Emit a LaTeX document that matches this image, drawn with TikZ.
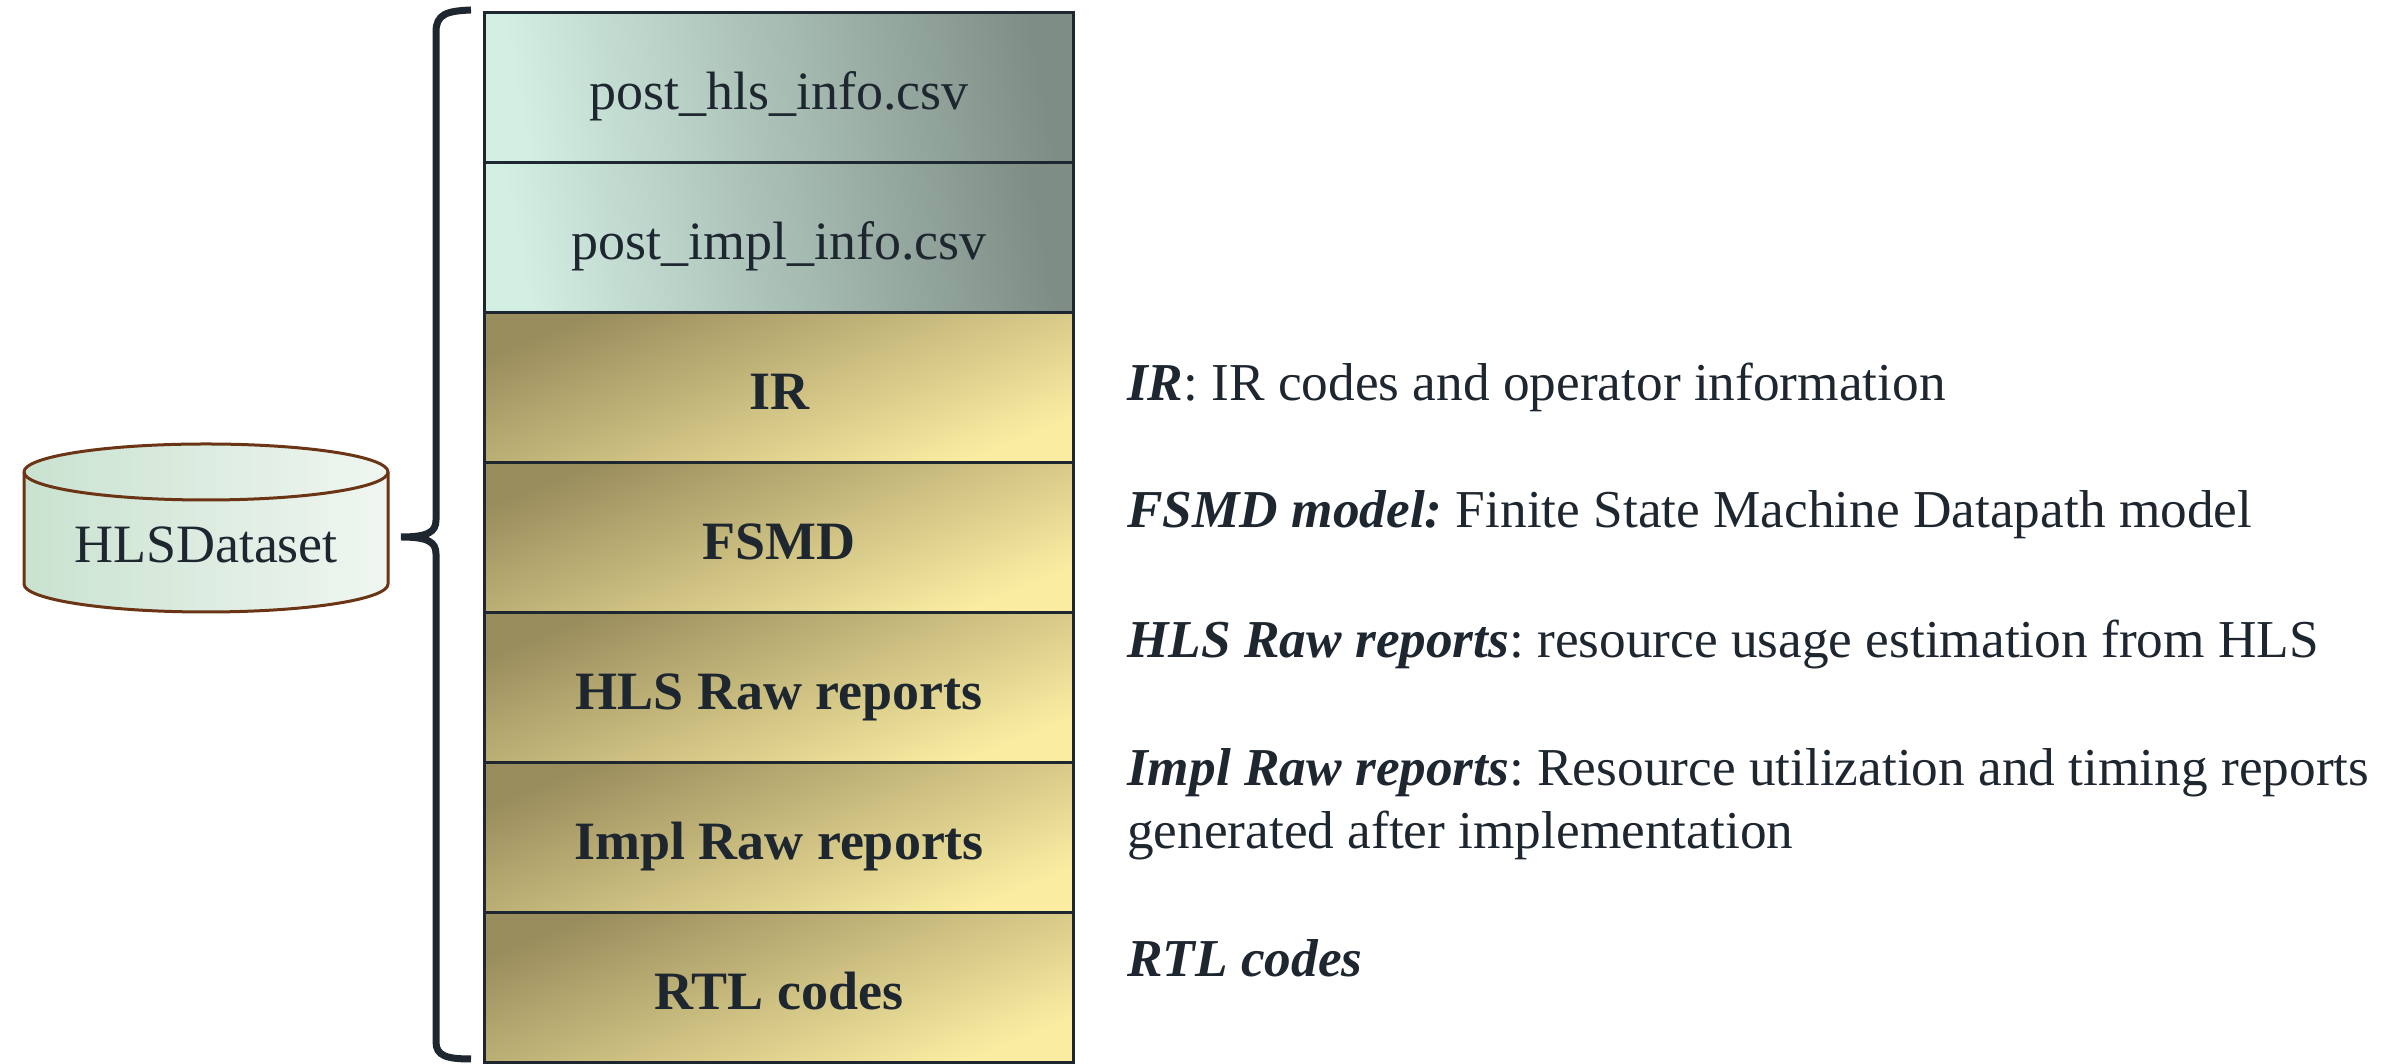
\documentclass[tikz,border=0pt]{standalone}
\usepackage{fontspec}
\setmainfont{Liberation Serif}
\frenchspacing

\definecolor{ink}{HTML}{1E2730}
\definecolor{csvL}{HTML}{D3EEE3}
\definecolor{csvR}{HTML}{7E8E86}
\definecolor{rawD}{HTML}{9A8D5D}
\definecolor{rawL}{HTML}{FAEDA2}
\definecolor{cylL}{HTML}{C9E2D0}
\definecolor{cylR}{HTML}{F0F6F1}
\definecolor{cylB}{HTML}{6B3515}

\tikzset{
  layer/.style={draw=ink, line width=3pt, rectangle, anchor=north west,
    minimum width=589pt, minimum height=150pt, inner sep=0pt,
    text height=52pt, text depth=8pt, text=ink},
  csvbox/.style={layer, left color=csvL, right color=csvR, shading angle=100,
    font=\fontsize{54}{64}\selectfont},
  rawbox/.style={layer, top color=rawD, bottom color=rawL, shading angle=22,
    font=\fontsize{54}{64}\selectfont\bfseries},
  note/.style={anchor=base west, inner sep=0pt, text=ink,
    font=\fontsize{53.3}{63}\selectfont}
}
\newcommand{\termtext}[1]{\textbf{\textit{#1}}}

\begin{document}
\begin{tikzpicture}[x=1pt, y=1pt]
  \useasboundingbox (0,0) rectangle (2399,1064);

  % database cylinder
  \shade[left color=cylL, right color=cylR, draw=cylB, line width=3pt]
    (24,592) -- (24,480)
    arc[start angle=180, end angle=360, x radius=182, y radius=28]
    -- (388,592)
    arc[start angle=0, end angle=180, x radius=182, y radius=28] -- cycle;
  \draw[cylB, line width=3pt]
    (24,592) arc[start angle=180, end angle=360, x radius=182, y radius=28];
  \node[anchor=base, inner sep=0pt, text=ink, font=\fontsize{54}{64}\selectfont]
    (ds) at (206,501) {HLSDataset};

  % stacked dataset contents
  \node[csvbox] (hlscsv)  at (483,1053) {post\_hls\_info.csv};
  \node[csvbox] (implcsv) at (483,903)  {post\_impl\_info.csv};
  \node[rawbox] (ir)      at (483,753)  {IR};
  \node[rawbox] (fsmd)    at (483,603)  {FSMD};
  \node[rawbox] (hlsraw)  at (483,453)  {HLS Raw reports};
  \node[rawbox] (implraw) at (483,303)  {Impl Raw reports};
  \node[rawbox] (rtl)     at (483,153)  {RTL codes};

  % curly brace grouping the contents
  \draw[ink, line width=7pt]
    (471,1054) .. controls (447,1053) and (436,1050) .. (436,1032)
    -- (436,544)
    .. controls (436,532) and (428,527) .. (401,527)
    .. controls (428,527) and (436,522) .. (436,510)
    -- (436,22)
    .. controls (436,8) and (447,5) .. (471,5);

  % descriptions
  \node[note] (dir)   at (1127,663) {\termtext{IR}: IR codes and operator information};
  \node[note] (dfsmd) at (1127,536) {\termtext{FSMD model:} Finite State Machine Datapath model};
  \node[note] (dhls)  at (1127,406) {\termtext{HLS Raw reports}: resource usage estimation from HLS};
  \node[note] (dimpl) at (1127,278) {\termtext{Impl Raw reports}: Resource utilization and timing reports};
  \node[note] (dimpl2) at (1127,215) {generated after implementation};
  \node[note] (drtl)  at (1127,87)  {\termtext{RTL codes}};
\end{tikzpicture}
\end{document}
